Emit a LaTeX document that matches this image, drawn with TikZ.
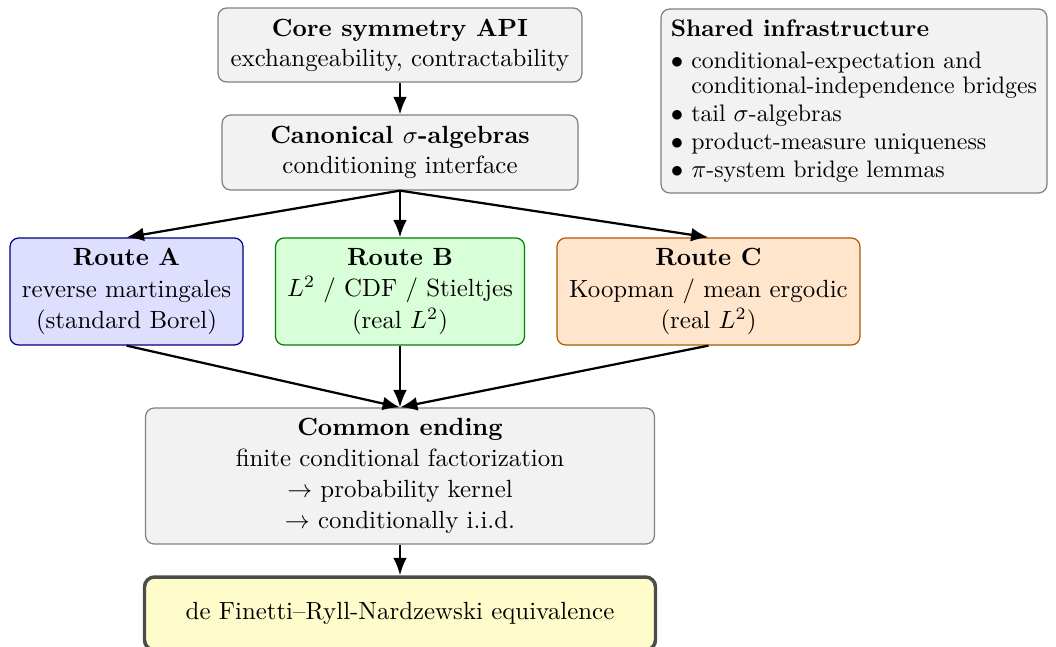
\documentclass[tikz,border=0pt]{standalone}
\usetikzlibrary{arrows.meta}
\begin{document}
\def\u{0.402pt}
\begin{tikzpicture}[x=\u,y=-\u,
  box/.style={draw=black!50, fill=black!5, rounded corners=3.5pt, align=center, inner sep=0pt, line width=0.5pt},
  wide/.style={font=\fontsize{10}{12.5}\selectfont},
  routea/.style={box, wide, draw=blue!50!black, fill=blue!13},
  routeb/.style={box, wide, draw=green!50!black, fill=green!15},
  routec/.style={box, wide, draw=orange!70!black, fill=orange!20},
  final/.style={box, draw=black!70, fill=yellow!20, line width=1.4pt, rounded corners=4pt},
  conn/.style={-{Latex[length=7pt,width=5.5pt]}, line width=0.9pt, black}]
\useasboundingbox (0,0) rectangle (1056,646);
\node[box, minimum width=364*\u, minimum height=74*\u] (core) at (400,45)
  {\textbf{Core symmetry API}\\exchangeability, contractability};
\node[box, minimum width=356*\u, minimum height=75*\u] (can) at (400,152.5)
  {\textbf{Canonical $\sigma$-algebras}\\conditioning interface};
\node[box, minimum width=386*\u, minimum height=184*\u, align=left, font=\fontsize{9.6}{10}\selectfont] (shared) at (854,101)
  {\textbf{Shared infrastructure}\\[3pt]
   $\bullet$ conditional-expectation and\\
   \phantom{$\bullet$} conditional-independence bridges\\[1.3pt]
   $\bullet$ tail $\sigma$-algebras\\[1.3pt]
   $\bullet$ product-measure uniqueness\\[1.3pt]
   $\bullet$ $\pi$-system bridge lemmas};
\node[routea, minimum width=233*\u, minimum height=107*\u] (ra) at (126.5,291.5)
  {\textbf{Route A}\\reverse martingales\\(standard Borel)};
\node[routeb, minimum width=249*\u, minimum height=107*\u] (rb) at (400,291.5)
  {\textbf{Route B}\\$L^2$ / CDF / Stieltjes\\(real $L^2$)};
\node[routec, minimum width=303*\u, minimum height=107*\u] (rc) at (708.5,291.5)
  {\textbf{Route C}\\Koopman / mean ergodic\\(real $L^2$)};
\node[box, wide, minimum width=509*\u, minimum height=136*\u] (common) at (400,476)
  {\textbf{Common ending}\\finite conditional factorization\\$\rightarrow$ probability kernel\\$\rightarrow$ conditionally i.i.d.};
\node[final, minimum width=511*\u, minimum height=73*\u] (fin) at (400,613.5)
  {de Finetti--Ryll-Nardzewski equivalence};
\draw[conn] (core.south) -- (can.north);
\draw[conn] (can.south) -- (ra.north);
\draw[conn] (can.south) -- (rb.north);
\draw[conn] (can.south) -- (rc.north);
\draw[conn] (ra.south) -- (common.north);
\draw[conn] (rb.south) -- (common.north);
\draw[conn] (rc.south) -- (common.north);
\draw[conn] (common.south) -- (fin.north);
\end{tikzpicture}
\end{document}
